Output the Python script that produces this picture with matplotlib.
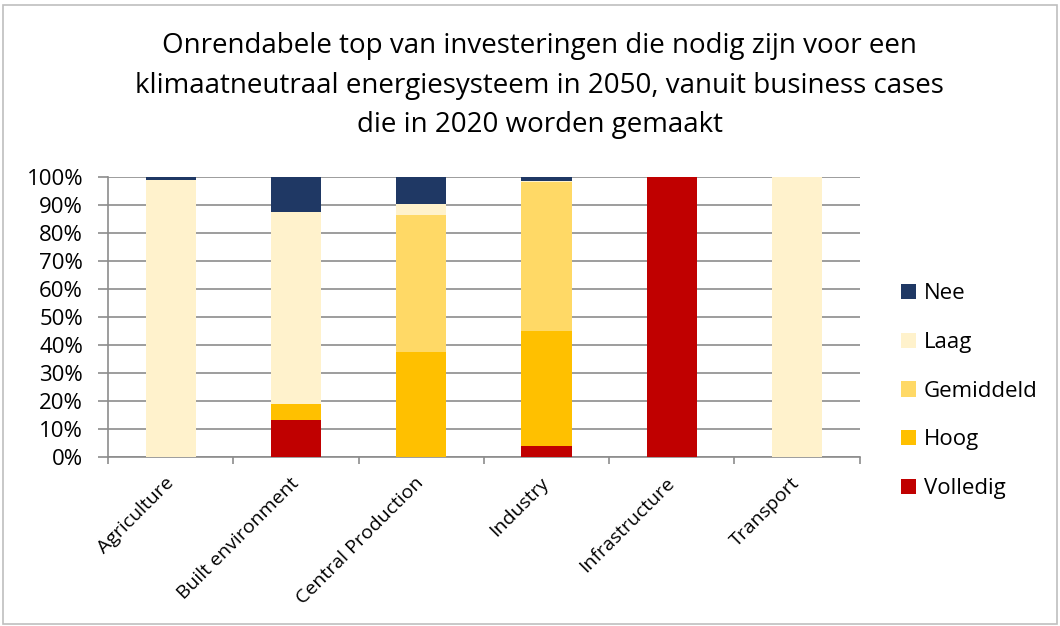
import numpy as np
import matplotlib.pyplot as plt
from matplotlib.patches import Rectangle
from matplotlib.ticker import FixedLocator

plt.rcParams["font.family"] = ["Open Sans", "DejaVu Sans"]

# data (percent of investments per sector)
sectors = ["Agriculture", "Built environment", "Central Production",
           "Industry", "Infrastructure", "Transport"]
volledig = [0.0, 13.2, 0.0, 4.0, 100.0, 0.0]
hoog = [0.0, 5.7, 37.4, 41.1, 0.0, 0.0]
gemiddeld = [0.0, 0.0, 49.0, 53.0, 0.0, 0.0]
laag = [99.0, 68.5, 4.1, 0.7, 0.0, 100.0]
nee = [1.0, 12.6, 9.5, 1.2, 0.0, 0.0]

series = [("Volledig", volledig, "#C00000"),
          ("Hoog", hoog, "#FFC000"),
          ("Gemiddeld", gemiddeld, "#FFD966"),
          ("Laag", laag, "#FFF2CC"),
          ("Nee", nee, "#1F3864")]

fig = plt.figure(figsize=(10.6, 6.26), dpi=100)
fig.patches.append(Rectangle((0.003, 0.003), 0.994, 0.989, transform=fig.transFigure,
                             fill=False, edgecolor="#BFBFBF", linewidth=1.2))
ax = fig.add_axes([0.102, 0.270, 0.709, 0.447])

x = np.arange(len(sectors))
bottom = np.zeros(len(sectors))
handles = {}
for name, vals, col in series:
    vals = np.array(vals)
    h = ax.bar(x, vals, 0.4, bottom=bottom, color=col, zorder=3, label=name)
    handles[name] = h
    bottom += vals

ax.set_xlim(-0.5, len(sectors) - 0.5)
ax.set_ylim(0, 100)
ax.set_yticks(np.arange(0, 101, 10))
ax.set_yticklabels([f"{v}%" for v in range(0, 101, 10)], fontsize=16)
ax.grid(axis="y", color="#8C8C8C", linewidth=1.2, zorder=0)
ax.set_xticks(x)
ax.set_xticklabels(sectors, rotation=45, ha="right", va="center",
                   rotation_mode="anchor", fontsize=14)
ax.tick_params(axis="x", length=0, pad=17)
ax.xaxis.set_minor_locator(FixedLocator(np.arange(-0.5, len(sectors), 1.0)))
ax.tick_params(axis="x", which="minor", length=5, color="#8C8C8C", width=1.2)
ax.tick_params(axis="y", length=7, color="#8C8C8C", width=1.2, pad=11)
for s in ["top", "right"]:
    ax.spines[s].set_visible(False)
for s in ["left", "bottom"]:
    ax.spines[s].set_color("#8C8C8C")
    ax.spines[s].set_linewidth(1.2)

order = ["Nee", "Laag", "Gemiddeld", "Hoog", "Volledig"]
ax.legend([handles[n] for n in order], order, loc="center left",
          bbox_to_anchor=(1.055, 0.235), frameon=False, fontsize=16,
          handlelength=0.68, handleheight=0.68, handletextpad=0.35,
          labelspacing=1.25, borderpad=0, borderaxespad=0)

fig.text(0.509, 0.863, "Onrendabele top van investeringen die nodig zijn voor een\n"
         "klimaatneutraal energiesysteem in 2050, vanuit business cases\n"
         "die in 2020 worden gemaakt", ha="center", va="center",
         fontsize=20, linespacing=1.54)

plt.savefig("out.png", dpi=100)
